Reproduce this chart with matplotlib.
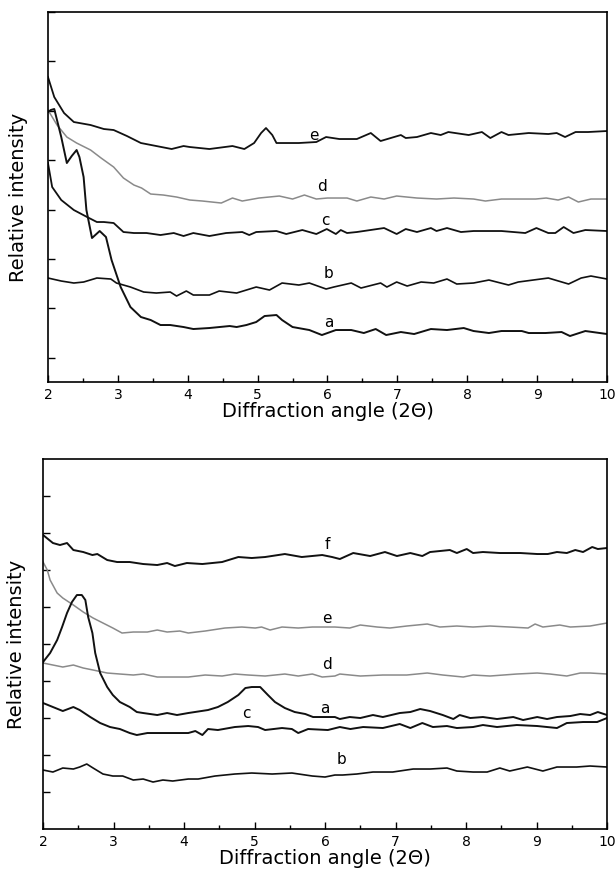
import matplotlib
matplotlib.use("Agg")
import matplotlib.pyplot as plt
import numpy as np
from matplotlib.ticker import MultipleLocator, NullFormatter

plt.rcParams["font.family"] = ["DejaVu Sans"]

# ---- top panel (x = 2-theta, y = relative intensity, arbitrary units) ----
top_e_x = [2.0, 2.09, 2.23, 2.37, 2.61, 2.80, 2.94, 3.13, 3.33, 3.55, 3.77, 3.94, 4.03, 4.31, 4.64,
           4.81, 4.95, 5.05, 5.12, 5.21, 5.27, 5.41, 5.59, 5.84, 5.98, 6.17, 6.42, 6.62, 6.76, 7.05,
           7.12, 7.28, 7.48, 7.62, 7.73, 8.02, 8.21, 8.33, 8.49, 8.59, 8.88, 9.16, 9.28, 9.40, 9.55,
           9.73, 10.0]
top_e_y = [305, 285, 269, 260, 257, 253, 252, 246, 239, 236, 233, 236, 235, 233, 236,
           233, 239, 249, 254, 247, 239, 239, 239, 240, 245, 243, 243, 249, 241, 247,
           244, 245, 249, 247, 250, 247, 250, 244, 250, 247, 249, 248, 249, 245, 250,
           250, 251]

top_d_x = [2.0, 2.13, 2.27, 2.41, 2.61, 2.76, 2.94, 3.08, 3.23, 3.34, 3.47, 3.65, 3.84, 4.03, 4.21,
           4.48, 4.64, 4.78, 5.02, 5.31, 5.5, 5.67, 5.84, 6.0, 6.17, 6.28, 6.42, 6.62, 6.81, 6.99,
           7.28, 7.56, 7.81, 8.09, 8.26, 8.49, 8.98, 9.13, 9.30, 9.45, 9.59, 9.77, 10.0]
top_d_y = [272, 257, 245, 239, 232, 224, 215, 204, 197, 194, 188, 187, 185, 182, 181,
           179, 184, 181, 184, 186, 183, 187, 183, 184, 184, 184, 181, 185, 183, 186,
           184, 183, 184, 183, 181, 183, 183, 184, 182, 185, 180, 183, 183]

top_c_x = [2.0, 2.06, 2.19, 2.37, 2.56, 2.70, 2.80, 2.94, 3.08, 3.23, 3.41, 3.61, 3.80, 3.94, 4.08,
           4.31, 4.55, 4.78, 4.88, 4.98, 5.27, 5.41, 5.64, 5.84, 5.99, 6.12, 6.19, 6.28, 6.42, 6.81,
           6.99, 7.12, 7.28, 7.48, 7.56, 7.71, 7.91, 8.09, 8.49, 8.83, 8.99, 9.16, 9.26, 9.38, 9.52,
           9.69, 10.0]
top_c_y = [219, 195, 182, 172, 165, 160, 160, 159, 150, 149, 149, 147, 149, 146, 149,
           146, 149, 150, 147, 150, 151, 148, 152, 148, 153, 148, 152, 149, 150, 154,
           148, 153, 150, 154, 151, 154, 150, 151, 151, 149, 154, 149, 149, 155, 149,
           152, 151]

top_b_x = [2.0, 2.19, 2.37, 2.51, 2.70, 2.90, 2.98, 3.18, 3.37, 3.55, 3.75, 3.84, 3.98, 4.08, 4.31,
           4.45, 4.70, 4.98, 5.17, 5.35, 5.59, 5.74, 5.98, 6.09, 6.34, 6.48, 6.76, 6.85, 6.99, 7.14,
           7.34, 7.52, 7.71, 7.85, 8.09, 8.31, 8.59, 8.73, 9.16, 9.45, 9.63, 9.77, 10.0]
top_b_y = [104, 101, 99, 100, 104, 103, 99, 95, 90, 89, 90, 86, 91, 87, 87,
           91, 89, 95, 92, 99, 97, 99, 93, 95, 99, 94, 99, 95, 100, 96,
           100, 99, 103, 98, 99, 102, 97, 100, 104, 98, 104, 106, 103]

top_a_x = [2.0, 2.04, 2.09, 2.19, 2.27, 2.34, 2.41, 2.45, 2.51, 2.55, 2.63, 2.74, 2.83, 2.91, 3.04,
           3.18, 3.33, 3.47, 3.61, 3.75, 3.94, 4.08, 4.31, 4.60, 4.70, 4.84, 4.98, 5.10, 5.27, 5.35,
           5.50, 5.74, 5.92, 6.12, 6.34, 6.52, 6.69, 6.84, 7.05, 7.24, 7.48, 7.71, 7.95, 8.09, 8.31,
           8.49, 8.78, 8.88, 9.12, 9.35, 9.47, 9.69, 10.0]
top_a_y = [270, 272, 273, 245, 219, 226, 232, 225, 205, 172, 144, 151, 145, 122, 95,
           75, 65, 62, 57, 57, 55, 53, 54, 56, 55, 57, 60, 66, 67, 62,
           55, 52, 47, 52, 52, 49, 53, 47, 50, 48, 53, 52, 54, 51, 49,
           51, 51, 49, 49, 50, 46, 51, 48]

# ---- bottom panel ----
bot_f_x = [2.0, 2.14, 2.24, 2.34, 2.43, 2.57, 2.70, 2.77, 2.91, 3.05, 3.23, 3.42, 3.62, 3.76, 3.87,
           4.04, 4.26, 4.54, 4.77, 4.96, 5.15, 5.43, 5.67, 5.96, 6.10, 6.21, 6.40, 6.64, 6.85, 7.02,
           7.21, 7.38, 7.49, 7.77, 7.87, 8.01, 8.10, 8.24, 8.48, 8.77, 9.01, 9.16, 9.29, 9.43, 9.55,
           9.66, 9.79, 9.87, 10.0]
bot_f_y = [294, 286, 284, 286, 279, 277, 274, 275, 269, 267, 267, 265, 264, 266, 263,
           266, 265, 267, 272, 271, 272, 275, 272, 274, 272, 270, 276, 273, 277, 273,
           276, 273, 277, 279, 276, 280, 276, 277, 276, 276, 275, 275, 277, 276, 279,
           277, 282, 280, 281]

bot_e_x = [2.0, 2.06, 2.10, 2.20, 2.28, 2.43, 2.57, 2.71, 2.85, 2.99, 3.12, 3.28, 3.48, 3.62, 3.76,
           3.94, 4.06, 4.30, 4.58, 4.82, 5.01, 5.10, 5.22, 5.39, 5.62, 5.82, 6.0, 6.14, 6.35, 6.50,
           6.74, 6.92, 7.16, 7.45, 7.63, 7.87, 8.10, 8.34, 8.62, 8.88, 8.98, 9.09, 9.33, 9.48, 9.76,
           10.0]
bot_e_y = [267, 259, 249, 236, 231, 224, 217, 211, 206, 201, 196, 197, 197, 199, 197,
           198, 196, 198, 201, 202, 201, 202, 199, 202, 201, 202, 202, 202, 201, 204,
           202, 201, 203, 205, 202, 203, 202, 203, 202, 201, 205, 202, 204, 202, 203,
           206]

bot_d_x = [2.0, 2.14, 2.28, 2.43, 2.57, 2.71, 2.91, 3.09, 3.28, 3.42, 3.62, 3.76, 3.94, 4.06, 4.30,
           4.54, 4.72, 4.91, 5.15, 5.43, 5.62, 5.82, 5.96, 6.14, 6.21, 6.50, 6.82, 7.16, 7.45, 7.67,
           7.96, 8.10, 8.34, 8.72, 9.01, 9.19, 9.43, 9.62, 9.76, 10.0]
bot_d_y = [166, 164, 162, 164, 161, 159, 156, 155, 154, 155, 152, 152, 152, 152, 154,
           153, 155, 154, 153, 155, 153, 155, 152, 153, 155, 153, 154, 154, 156, 154,
           152, 154, 153, 155, 156, 155, 153, 156, 156, 155]

bot_a_x = [2.0, 2.10, 2.20, 2.27, 2.34, 2.41, 2.48, 2.55, 2.60, 2.64, 2.70, 2.74, 2.81, 2.91, 2.99,
           3.09, 3.23, 3.33, 3.42, 3.62, 3.76, 3.90, 4.06, 4.34, 4.48, 4.62, 4.77, 4.87, 4.96, 5.08,
           5.19, 5.29, 5.43, 5.57, 5.72, 5.83, 5.96, 6.14, 6.21, 6.35, 6.50, 6.68, 6.82, 7.06, 7.21,
           7.35, 7.49, 7.67, 7.82, 7.91, 8.06, 8.24, 8.44, 8.67, 8.81, 9.01, 9.15, 9.29, 9.48, 9.62,
           9.76, 9.87, 10.0]
bot_a_y = [167, 176, 189, 202, 216, 227, 234, 234, 229, 212, 196, 176, 156, 142, 134,
           127, 122, 117, 116, 114, 116, 114, 116, 119, 122, 127, 134, 141, 142, 142,
           134, 127, 121, 117, 115, 112, 112, 112, 110, 112, 111, 114, 112, 116, 117,
           120, 118, 114, 110, 114, 111, 112, 110, 112, 109, 112, 110, 112, 113, 115,
           114, 117, 114]

bot_c_x = [2.0, 2.14, 2.28, 2.43, 2.52, 2.67, 2.81, 2.95, 3.09, 3.23, 3.33, 3.48, 3.66, 3.84, 4.06,
           4.16, 4.26, 4.34, 4.48, 4.72, 4.91, 5.05, 5.15, 5.39, 5.53, 5.62, 5.76, 6.04, 6.21, 6.36,
           6.54, 6.82, 7.06, 7.21, 7.38, 7.53, 7.73, 7.87, 8.10, 8.24, 8.44, 8.72, 9.01, 9.29, 9.43,
           9.66, 9.86, 10.0]
bot_c_y = [126, 122, 118, 122, 119, 112, 106, 102, 100, 96, 94, 96, 96, 96, 96,
           98, 94, 100, 99, 102, 103, 102, 99, 101, 100, 96, 100, 99, 102, 100,
           102, 101, 105, 101, 106, 102, 103, 101, 102, 104, 102, 104, 103, 101, 106,
           107, 107, 111]

bot_b_x = [2.0, 2.14, 2.28, 2.43, 2.52, 2.62, 2.71, 2.85, 2.99, 3.13, 3.28, 3.42, 3.56, 3.70, 3.84,
           4.06, 4.20, 4.44, 4.72, 4.96, 5.25, 5.53, 5.82, 6.0, 6.14, 6.25, 6.45, 6.68, 6.96, 7.25,
           7.49, 7.73, 7.87, 8.10, 8.30, 8.48, 8.62, 8.87, 9.09, 9.29, 9.57, 9.76, 10.0]
bot_b_y = [59, 57, 61, 60, 62, 65, 61, 55, 53, 53, 49, 50, 47, 49, 48,
           50, 50, 53, 55, 56, 55, 56, 53, 52, 54, 54, 55, 57, 57, 60,
           60, 61, 58, 57, 57, 61, 58, 62, 58, 62, 62, 63, 62]

BLACK = "#111111"
GRAY = "#8a8a8a"

top_curves = [
    (top_e_x, top_e_y, BLACK, 1.3), (top_d_x, top_d_y, GRAY, 1.1),
    (top_c_x, top_c_y, BLACK, 1.3), (top_b_x, top_b_y, BLACK, 1.2),
    (top_a_x, top_a_y, BLACK, 1.4),
]
top_labels = [("e", 5.80, 247), ("d", 5.92, 196), ("c", 5.97, 162), ("b", 6.02, 109), ("a", 6.02, 60)]

bot_curves = [
    (bot_f_x, bot_f_y, BLACK, 1.4), (bot_e_x, bot_e_y, GRAY, 1.1),
    (bot_d_x, bot_d_y, GRAY, 1.1), (bot_a_x, bot_a_y, BLACK, 1.4),
    (bot_c_x, bot_c_y, BLACK, 1.4), (bot_b_x, bot_b_y, BLACK, 1.2),
]
bot_labels = [("f", 6.03, 285), ("e", 6.03, 211), ("d", 6.03, 165), ("a", 6.0, 121),
              ("c", 4.89, 116), ("b", 6.24, 70)]


def style_axes(ax, yticks, ypad):
    ax.set_xlim(2, 10)
    ax.set_ylim(0, 370)
    ax.xaxis.set_major_locator(MultipleLocator(1))
    ax.xaxis.set_minor_locator(MultipleLocator(0.5))
    ax.set_yticks(yticks)
    ax.yaxis.set_major_formatter(NullFormatter())
    ax.tick_params(axis="x", which="major", direction="in", length=5, width=1.0,
                   labelsize=10, pad=4, top=False)
    ax.tick_params(axis="x", which="minor", direction="in", length=3, width=1.0, top=False)
    ax.tick_params(axis="y", which="major", direction="in", length=5, width=1.0, right=False)
    for sp in ax.spines.values():
        sp.set_linewidth(1.2)
    ax.set_xlabel("Diffraction angle (2\u0398)", fontsize=14, labelpad=0)
    ax.set_ylabel("Relative intensity", fontsize=14, labelpad=ypad)


fig = plt.figure(figsize=(6.15, 8.71), dpi=100)
ax1 = fig.add_axes([0.078, 0.5614, 0.909, 0.4248])
ax2 = fig.add_axes([0.070, 0.0482, 0.917, 0.4248])

for x, y, c, lw in top_curves:
    ax1.plot(x, y, color=c, linewidth=lw, solid_joinstyle="round")
for t, x, y in top_labels:
    ax1.text(x, y, t, fontsize=11, ha="center", va="center")
style_axes(ax1, np.arange(24.2, 371, 49.4), 11)

for x, y, c, lw in bot_curves:
    ax2.plot(x, y, color=c, linewidth=lw, solid_joinstyle="round")
for t, x, y in bot_labels:
    ax2.text(x, y, t, fontsize=11, ha="center", va="center")
style_axes(ax2, np.arange(37, 370, 37), 9)

fig.savefig("out.png", dpi=100)
